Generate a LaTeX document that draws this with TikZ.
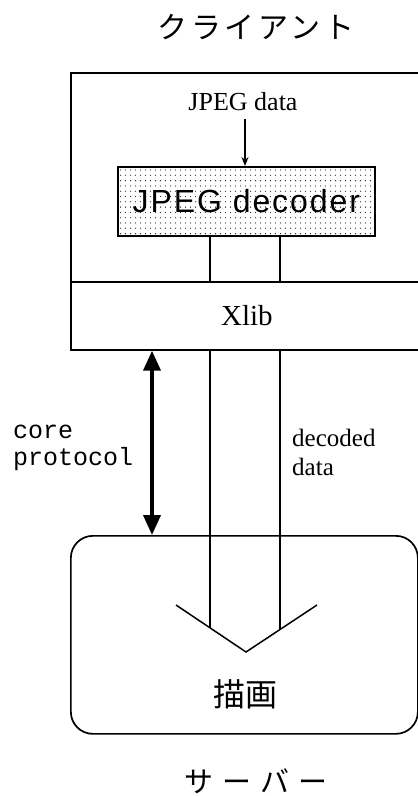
\documentclass[tikz,border=0pt]{standalone}
\usepackage{fontspec}
\setmainfont{Liberation Serif}
\newfontfamily\sansf[LetterSpace=6]{Liberation Sans}
\newfontfamily\monof{Liberation Mono}
\newfontfamily\cjk[LetterSpace=12]{Noto Sans CJK JP}
\newfontfamily\cjkwide[LetterSpace=32]{Noto Sans CJK JP}
\newfontfamily\cjkplain{Noto Sans CJK JP}
\usetikzlibrary{arrows.meta}

\tikzset{
  box/.style={draw, line width=1.7pt, anchor=north west, inner sep=0pt},
  wire/.style={line width=1.3pt},
  mono/.style={font=\monof\fontsize{25}{27}\selectfont, align=left, anchor=west, inner sep=0pt},
  jp/.style={font=\cjk\fontsize{30}{32}\selectfont},
}

\begin{document}
\begin{tikzpicture}[x=1pt,y=-1pt]
\useasboundingbox (0,0) rectangle (418,796);

% column positions
\coordinate (colA) at (210,0);
\coordinate (colB) at (280,0);
\coordinate (colIn) at (245,119);
\coordinate (colP) at (152,0);

% client side
\node[jp] (clientlabel) at (256,27) {クライアント};
\node[box, minimum width=352pt, minimum height=277pt] (client) at (70,72) {};
\node[box, minimum width=352pt, minimum height=68pt, font=\fontsize{29}{30}\selectfont] (xlib) at (70,281) {Xlib};

% decoder with stippled fill
\foreach \i in {0,...,50}
  \foreach \j in {0,...,12}
    \fill[black!80] (120.5+5*\i, 170+5.3*\j) circle (0.65pt);
\node[box, minimum width=257pt, minimum height=69pt,
      font=\sansf\fontsize{32}{33}\selectfont] (dec) at (117,166) {JPEG decoder};

\node[font=\fontsize{26}{28}\selectfont] (jdata) at (243,102) {JPEG data};
\draw[wire, -{Stealth[length=9pt,width=7pt]}] (colIn) -- (colIn |- dec.north);

% decoded data paths
\draw[wire] (colA |- dec.south) -- (colA |- xlib.north);
\draw[wire] (colB |- dec.south) -- (colB |- xlib.north);

% server side
\node[box, rounded corners=22pt, minimum width=347pt, minimum height=198pt] (server) at (70,535) {};
\node[font=\cjkplain\fontsize{32}{34}\selectfont] (drawing) at (245,694) {描画};
\node[font=\cjkwide\fontsize{29}{30}\selectfont] (serverlabel) at (256,781) {サーバー};

\coordinate (vl) at (176,605);
\coordinate (vt) at (246,652);
\coordinate (vr) at (317,605);
\coordinate (va) at (210,628);
\coordinate (vb) at (280,629.5);
\draw[wire, line width=1.5pt] (vl) -- (vt) -- (vr);

\draw[wire] (colA |- xlib.south) -- (va);
\draw[wire] (colB |- xlib.south) -- (vb);

% protocol link
\draw[line width=3.8pt, {Triangle[length=20pt,width=17pt]}-{Triangle[length=20pt,width=17pt]}]
  (colP |- xlib.south) -- (colP |- server.north);

\node[mono] (core) at (13,448) {core\\protocol};
\node[align=left, anchor=west, inner sep=0pt, font=\fontsize{25}{29}\selectfont] (dd) at (292,452) {decoded\\data};
\end{tikzpicture}
\end{document}
